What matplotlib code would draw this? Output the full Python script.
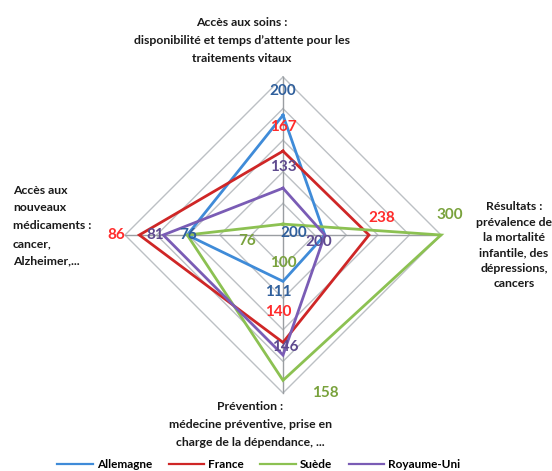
import numpy as np
import matplotlib.pyplot as plt
from matplotlib.lines import Line2D

plt.rcParams['font.family'] = ['Lato', 'DejaVu Sans']

# axes of the radar, clockwise from the top
axis_angles = [90, 0, -90, 180]
# each criterion has its own scale: value at the centre and at the outer ring
axis_min = [90, 164, 89, 56]
axis_max = [235, 300, 164, 89]

countries = ['Allemagne', 'France', 'Suède', 'Royaume-Uni']
allemagne = [200, 200, 111, 76]
france = [167, 238, 140, 86]
suede = [100, 300, 158, 76]
royaume_uni = [133, 200, 146, 81]

line_colors = ['#3f8bd8', '#cf2626', '#8cc152', '#7a5cb5']
label_colors = ['#2f5f9c', '#ff2b2b', '#79a23c', '#5e4a8e']

# where each value label sits relative to its vertex (pixels)
label_offsets = [
    [(0, 24), (-31, 2), (-5, -11), (1, 0)],
    [(0, 24), (13, 17), (-5, 30), (-23, 0)],
    [(0, -39), (9, 20), (42, -13), (60, -6)],
    [(0, 21), (-6, -7), (2, 8), (-8, 0)],
]

R = 158.0   # radius of the outer ring
n_rings = 5


def to_xy(values):
    xs, ys = [], []
    for v, a, lo, hi in zip(values, axis_angles, axis_min, axis_max):
        r = (v - lo) / (hi - lo) * R
        xs.append(r * np.cos(np.radians(a)))
        ys.append(r * np.sin(np.radians(a)))
    return xs, ys


fig = plt.figure(figsize=(5.52, 4.71), dpi=100)
ax = fig.add_axes([0, 0, 1, 1])
ax.set_xlim(-283, 269)
ax.set_ylim(-236, 235)
ax.axis('off')

# diamond grid
ang = np.radians(axis_angles + axis_angles[:1])
for k in range(1, n_rings + 1):
    r = R * k / n_rings
    ax.plot(r * np.cos(ang), r * np.sin(ang), color='#bcc0c4', lw=1.0, zorder=1)
for a in axis_angles:
    ax.plot([0, R * np.cos(np.radians(a))], [0, R * np.sin(np.radians(a))],
            color='#9a9ea2', lw=1.0, zorder=1)

series = [allemagne, france, suede, royaume_uni]
for vals, lc, tc, offs in zip(series, line_colors, label_colors, label_offsets):
    xs, ys = to_xy(vals)
    ax.plot(xs + xs[:1], ys + ys[:1], color=lc, lw=2.0, zorder=3,
            solid_joinstyle='miter')
    for x, y, v, off in zip(xs, ys, vals, offs):
        ax.annotate(str(v), (x, y), xytext=off, textcoords='offset pixels',
                    ha='center', va='center', color=tc, fontsize=11,
                    fontweight='bold', zorder=4)


def lines_of_text(lines, x, y, step, ha, size):
    for i, s in enumerate(lines):
        ax.text(x, y - i * step, s, ha=ha, va='center', fontsize=size,
                fontweight='bold', color='#1a1a1a')


lines_of_text(['Accès aux soins :',
               'disponibilité et temps d\u2019attente pour les',
               'traitements vitaux'], -41, 212, 17.5, 'center', 8.8)
lines_of_text(['Résultats :', 'prévalence de', 'la mortalité',
               'infantile, des', 'dépressions,', 'cancers'],
              231, 28, 15.3, 'center', 8.8)
lines_of_text(['Accès aux', 'nouveaux', 'médicaments :', 'cancer,',
               'Alzheimer,...'], -270, 45, 17.8, 'left', 8.8)
lines_of_text(['Prévention :', 'médecine préventive, prise en',
               'charge de la dépendance, ...'], -33, -171, 18.5, 'center', 8.8)

handles = [Line2D([], [], color=c, lw=1.6) for c in line_colors]
fig.legend(handles, countries, loc='center', bbox_to_anchor=(0.469, 0.013),
           ncol=4, frameon=False, prop={'size': 8.5, 'weight': 'bold'},
           handlelength=3.0, handletextpad=0.35, columnspacing=1.4,
           borderpad=0)

fig.savefig('out.png', dpi=100)
